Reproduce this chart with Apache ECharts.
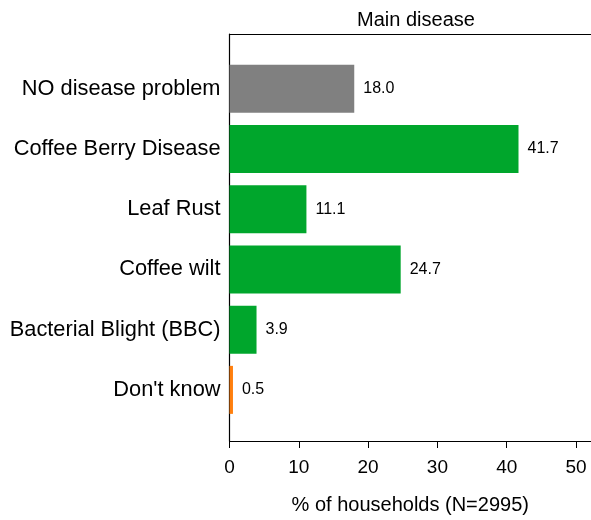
<!DOCTYPE html>
<html><head><meta charset="utf-8">
<script src="https://cdn.jsdelivr.net/npm/echarts@6/dist/echarts.min.js"></script>
<style>html,body{margin:0;padding:0;background:#fff}#c{width:591px;height:520px}</style>
</head><body><div id="c"></div>
<script>
const categories = ["NO disease problem","Coffee Berry Disease","Leaf Rust","Coffee wilt","Bacterial Blight (BBC)","Don't know"];
const values = [18.0, 41.7, 11.1, 24.7, 3.9, 0.5];
const barColors = ["#808080","#00A62C","#00A62C","#00A62C","#00A62C","#FF7F0E"];
const xTicks = [0,10,20,30,40,50];

const font = "Liberation Sans, Arial, sans-serif";
const XMAX = 52.16;
const chart = echarts.init(document.getElementById('c'), null, {renderer:'canvas'});
chart.setOption({
  animation:false,
  title:{text:"Main disease", left:411, top:5, textAlign:'center',
    textStyle:{fontFamily:font,fontSize:20,fontWeight:'normal',color:'#000'}},
  grid:[
    {left:229.5,right:0,top:58.5,bottom:100,containLabel:false},
    {left:229.5,right:0,top:34,bottom:75,containLabel:false}
  ],
  xAxis:[
    {gridIndex:0,type:'value',min:0,max:XMAX,show:false},
    {gridIndex:1,type:'value',min:0,max:XMAX,interval:10,
      axisLine:{show:true,onZero:false,lineStyle:{color:'#000',width:1.2}},
      axisTick:{show:true,length:7,lineStyle:{color:'#000'},customValues:xTicks},
      axisLabel:{fontFamily:font,fontSize:19,color:'#000',margin:17,customValues:xTicks},
      splitLine:{show:false},
      name:"% of households (N=2995)",nameLocation:'middle',nameGap:54,
      nameTextStyle:{fontFamily:font,fontSize:20,color:'#000'}},
    {gridIndex:1,type:'value',position:'top',min:0,max:XMAX,
      axisLine:{show:true,onZero:false,lineStyle:{color:'#000',width:1.2}},
      axisTick:{show:false},axisLabel:{show:false},splitLine:{show:false}}
  ],
  yAxis:[
    {gridIndex:0,type:'category',inverse:true,data:categories,
      axisLine:{show:false},axisTick:{show:false},splitLine:{show:false},
      axisLabel:{fontFamily:font,fontSize:21.8,color:'#000',margin:9}},
    {gridIndex:1,type:'value',min:0,max:1,
      axisLine:{show:true,onZero:false,lineStyle:{color:'#000',width:1.2}},
      axisTick:{show:false},axisLabel:{show:false},splitLine:{show:false}}
  ],
  series:[{type:'bar',xAxisIndex:0,yAxisIndex:0,barWidth:48,
    data:values.map((v,i)=>({value:v,itemStyle:{color:barColors[i]}})),
    label:{show:true,position:'right',distance:9,fontFamily:font,fontSize:16,color:'#000',
      formatter:p=>p.value.toFixed(1)}}]
});
</script></body></html>
